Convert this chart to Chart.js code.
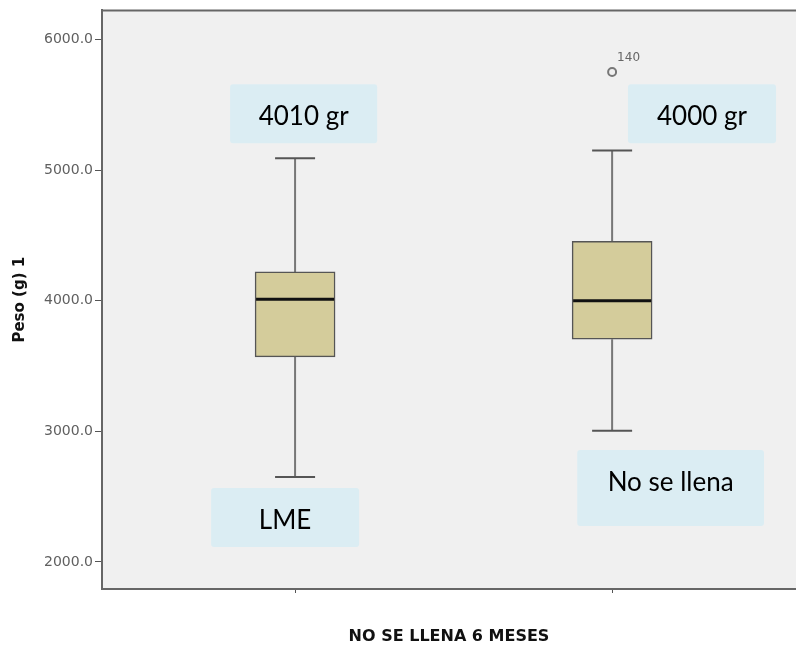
<!DOCTYPE html>
<html><head><meta charset="utf-8">
<script src="https://cdn.jsdelivr.net/npm/chart.js@4.4.1/dist/chart.umd.min.js"></script>
<style>html,body{margin:0;padding:0;background:#fff;overflow:hidden}#wrap{width:796px;height:649px;position:relative;overflow:hidden}canvas{display:block}</style>
</head><body><div id="wrap"><canvas id="c" width="802" height="649"></canvas></div>
<script>
// ---- data ----
const groups = ['LME', 'No se llena'];
const whiskerLow = [2650, 3005];
const q1 = [3570, 3705];
const median = [4010, 4000];
const q3 = [4220, 4455];
const whiskerHigh = [5090, 5150];
const outlierGroup = [1];
const outlierValue = [5750];
const outlierLabel = ['140'];
const yTicks = [2000, 3000, 4000, 5000, 6000];
const xAxisTitle = 'NO SE LLENA 6 MESES';
const yAxisTitle = 'Peso (g) 1';
const calloutTexts = ['4010 gr', '4000 gr', 'LME', 'No se llena'];

// callout placement in axis units
const callouts = [
  {text: calloutTexts[0], x0: -0.205, x1: 0.259, y0: 5205, y1: 5656, ty: 5411, clip: 5296},
  {text: calloutTexts[1], x0: 1.050, x1: 1.517, y0: 5205, y1: 5656, ty: 5411, clip: 5296},
  {text: calloutTexts[2], x0: -0.265, x1: 0.202, y0: 2115, y1: 2566, ty: 2314},
  {text: calloutTexts[3], x0: 0.890, x1: 1.479, y0: 2275, y1: 2857, ty: 2604}
];

const boxPlugin = {
  id: 'boxplot',
  beforeDraw(chart) {
    const {ctx, chartArea: a} = chart;
    ctx.save();
    ctx.fillStyle = '#f0f0f0';
    ctx.fillRect(a.left, a.top, a.right - a.left, a.bottom - a.top);
    ctx.restore();
  },
  beforeDatasetsDraw(chart) {
    const {ctx, scales: {x, y}} = chart;
    ctx.save();
    ctx.lineWidth = 2;
    groups.forEach((g, i) => {
      const cx = x.getPixelForValue(i);
      const capHalf = 20;
      ctx.strokeStyle = '#777';
      ctx.beginPath();
      ctx.moveTo(cx, y.getPixelForValue(q3[i]));
      ctx.lineTo(cx, y.getPixelForValue(whiskerHigh[i]));
      ctx.moveTo(cx, y.getPixelForValue(q1[i]));
      ctx.lineTo(cx, y.getPixelForValue(whiskerLow[i]));
      ctx.stroke();
      ctx.strokeStyle = '#555';
      ctx.beginPath();
      ctx.moveTo(cx - capHalf, y.getPixelForValue(whiskerHigh[i]));
      ctx.lineTo(cx + capHalf, y.getPixelForValue(whiskerHigh[i]));
      ctx.moveTo(cx - capHalf, y.getPixelForValue(whiskerLow[i]));
      ctx.lineTo(cx + capHalf, y.getPixelForValue(whiskerLow[i]));
      ctx.stroke();
    });
    ctx.restore();
  },
  afterDatasetsDraw(chart) {
    const {ctx, chartArea: a, scales: {x, y}} = chart;
    ctx.save();
    // medians
    ctx.strokeStyle = '#111';
    ctx.lineWidth = 3;
    groups.forEach((g, i) => {
      const cx = x.getPixelForValue(i);
      const my = y.getPixelForValue(median[i]);
      ctx.beginPath();
      ctx.moveTo(cx - 39, my);
      ctx.lineTo(cx + 39, my);
      ctx.stroke();
    });
    // top frame line
    ctx.strokeStyle = '#666';
    ctx.lineWidth = 2;
    ctx.beginPath();
    ctx.moveTo(a.left, a.top);
    ctx.lineTo(a.right, a.top);
    ctx.stroke();
    // outlier labels
    ctx.fillStyle = '#666';
    ctx.font = '12px "DejaVu Sans"';
    ctx.textAlign = 'left';
    ctx.textBaseline = 'middle';
    outlierGroup.forEach((g, i) => {
      ctx.fillText(outlierLabel[i], x.getPixelForValue(g) + 5, y.getPixelForValue(outlierValue[i]) - 14);
    });
    // callouts
    callouts.forEach(c => {
      const l = x.getPixelForValue(c.x0), r = x.getPixelForValue(c.x1);
      const t = y.getPixelForValue(c.y1), b = y.getPixelForValue(c.y0);
      ctx.fillStyle = '#dbedf3';
      ctx.beginPath();
      ctx.roundRect(l, t, r - l, b - t, 3);
      ctx.fill();
      ctx.save();
      if (c.clip !== undefined) {
        const cb = y.getPixelForValue(c.clip);
        ctx.beginPath();
        ctx.rect(l, t, r - l, cb - t);
        ctx.clip();
      }
      ctx.fillStyle = '#000';
      ctx.font = '26px Lato';
      ctx.textAlign = 'center';
      ctx.textBaseline = 'middle';
      ctx.fillText(c.text, (l + r) / 2, y.getPixelForValue(c.ty));
      ctx.restore();
    });
    ctx.restore();
  }
};

new Chart(document.getElementById('c'), {
  type: 'bar',
  data: {
    datasets: [
      {
        type: 'bar',
        data: groups.map((g, i) => ({x: i, y: [q1[i], q3[i]]})),
        backgroundColor: '#d4cc9b',
        borderColor: '#555',
        borderWidth: 1.5,
        borderSkipped: false,
        barThickness: 80
      },
      {
        type: 'scatter',
        data: outlierGroup.map((g, i) => ({x: g, y: outlierValue[i]})),
        pointRadius: 4,
        pointBorderWidth: 2,
        pointBorderColor: '#777',
        pointBackgroundColor: 'rgba(0,0,0,0)'
      }
    ]
  },
  options: {
    responsive: false,
    maintainAspectRatio: false,
    animation: false,
    layout: {padding: {top: 10, left: 0, right: 0, bottom: 0}},
    plugins: {legend: {display: false}, tooltip: {enabled: false}},
    scales: {
      x: {
        type: 'linear',
        offset: false,
        min: -0.609,
        max: 1.58,
        afterBuildTicks: s => { s.ticks = [{value: 0}, {value: 1}]; },
        afterFit: s => { s.height = 60; },
        ticks: {display: false},
        grid: {display: true, offset: false, drawOnChartArea: false, drawTicks: true, tickLength: 4, color: '#555'},
        border: {display: true, color: '#666', width: 2},
        title: {display: true, text: xAxisTitle, color: '#111', font: {family: 'DejaVu Sans', size: 16, weight: 'bold'}, padding: {top: 0, bottom: 3}}
      },
      y: {
        type: 'linear',
        min: 1793,
        max: 6222,
        afterBuildTicks: s => { s.ticks = yTicks.map(v => ({value: v})); },
        afterFit: s => { s.width = 102; },
        ticks: {callback: v => Number(v).toFixed(1), color: '#606060', font: {family: 'DejaVu Sans', size: 14}, padding: 2},
        grid: {display: true, drawOnChartArea: false, drawTicks: true, tickLength: 7, color: '#555'},
        border: {display: true, color: '#666', width: 2},
        title: {display: true, text: yAxisTitle, color: '#111', font: {family: 'DejaVu Sans', size: 15, weight: 'bold'}, padding: {top: 11, bottom: 0}}
      }
    }
  },
  plugins: [boxPlugin]
});
</script>
</body></html>
